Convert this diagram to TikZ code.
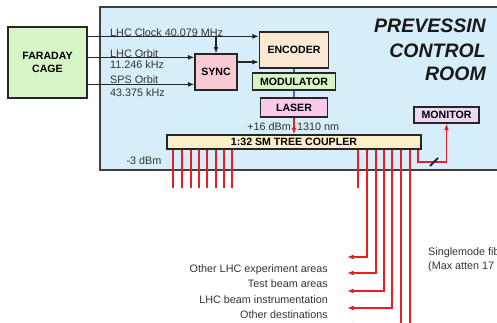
\documentclass[tikz,border=0pt]{standalone}
\usepackage{fontspec}
\setmainfont{Liberation Sans}
\usepackage{tikz}
\usetikzlibrary{positioning, arrows.meta, calc}

\definecolor{roomblue}{RGB}{213,238,249}
\definecolor{cagegreen}{RGB}{214,246,200}
\definecolor{syncpink}{RGB}{250,202,212}
\definecolor{encpeach}{RGB}{252,232,212}
\definecolor{laserpink}{RGB}{248,202,236}
\definecolor{couplercream}{RGB}{253,238,202}
\definecolor{monlilac}{RGB}{236,216,242}
\definecolor{fibrered}{RGB}{232,30,38}
\definecolor{linkblue}{RGB}{60,110,200}

\begin{document}
\begin{tikzpicture}[x=1pt, y=-1pt,
    box/.style={draw=black!85, line width=1.3pt, inner sep=0pt, font=\fontsize{10.6}{13}\selectfont\bfseries},
    lbl/.style={inner sep=0pt, text=black!80, font=\fontsize{10.8}{13}\selectfont},
    title/.style={inner sep=0pt, anchor=east, text=black!90, font=\fontsize{19.5}{24}\selectfont\bfseries\itshape},
    sig/.style={line width=1.1pt, black!85, -{Latex[length=6.5pt,width=5pt]}},
    link/.style={line width=1.1pt, linkblue},
    fibre/.style={line width=1.4pt, fibrered},
    tofibre/.style={fibre, -{Latex[length=6.5pt,width=5pt]}}]

    \useasboundingbox (0,0) rectangle (497,322);
    \clip (0,0) rectangle (497,322);

    % ---------------- CONTROL ROOM ----------------
    \draw[fill=roomblue, draw=black!75, line width=1.6pt] (100,7) rectangle (530,170);
    \node[title] (t1) at (486,26) {PREVESSIN};
    \node[title] (t2) at (486,50.5) {CONTROL};
    \node[title] (t3) at (486,74) {ROOM};

    % Boxes
    \node[box, fill=cagegreen, align=center, minimum width=79pt, minimum height=71pt] (cage) at (47.5,62.5) {FARADAY\\CAGE};
    \node[box, fill=syncpink, minimum width=42pt, minimum height=36pt] (sync) at (216,72) {SYNC};
    \node[box, fill=encpeach, minimum width=69pt, minimum height=36pt] (enc) at (294,50) {ENCODER};
    \node[box, fill=cagegreen, minimum width=83pt, minimum height=17pt] (mod) at (294,81.5) {MODULATOR};
    \node[box, fill=laserpink, minimum width=67pt, minimum height=19pt] (laser) at (294,107.5) {LASER};
    \node[box, fill=couplercream, minimum width=254pt, minimum height=14pt] (coupler) at (294,142) {1:32 SM TREE COUPLER};
    \node[box, fill=monlilac, minimum width=65pt, minimum height=16pt] (mon) at (446.5,115) {MONITOR};

    % Timing signals
    \coordinate (clk) at ($(cage.north east)+(0,10)$);
    \coordinate (orb) at ($(cage.north east)+(0,31)$);
    \coordinate (sps) at ($(cage.north east)+(0,58)$);
    \coordinate (syncout) at ($(sync.east)+(0,-10)$);
    \draw[sig] (clk) -- (clk -| enc.west);
    \draw[sig] (clk -| sync.north) -- (sync.north);
    \draw[sig] (orb) -- (orb -| sync.west);
    \draw[sig] (sps) -- (sps -| sync.west);
    \draw[sig] (syncout) -- (syncout -| enc.west);

    \node[lbl, anchor=base west] (lclk) at (110,36.5) {LHC Clock 40.079 MHz};
    \node[lbl, anchor=base west] (lorb) at (110,57) {LHC Orbit};
    \node[lbl, anchor=base west] (forb) at (110,68) {11.246 kHz};
    \node[lbl, anchor=base west] (lsps) at (110,83) {SPS Orbit};
    \node[lbl, anchor=base west] (fsps) at (110,96) {43.375 kHz};

    % Transmitter chain
    \draw[link] (enc.south) -- (mod.north);
    \draw[link] (mod.south) -- (laser.north);
    \draw[tofibre] (laser.south) -- (laser.south |- coupler.north);
    \node[lbl, anchor=base east] (pwr) at (291,130) {+16 dBm};
    \node[lbl, anchor=base west] (wave) at (297,130) {1310 nm};
    \node[lbl, anchor=base] (att) at (144,164) {-3 dBm};

    % ---------------- FIBRE OUTPUTS ----------------
    \foreach \x in {173,182,191,199,207,216,224,232}
        \draw[fibre] (\x,0 |- coupler.south) -- (\x,188);
    \draw[fibre] (358,0 |- coupler.south) -- (358,188);
    \foreach \x/\y in {367/257, 376/273, 384/291, 392/308, 401/325}
        \draw[tofibre] (\x,0 |- coupler.south) |- (347,\y);
    \draw[fibre] (410,0 |- coupler.south) -- (410,330);

    % Monitor tap
    \draw[tofibre] (418,0 |- coupler.south) -- (418,162) -| (mon.south);
    \draw[line width=2pt, black!85] (430,166) -- (438,158);

    % Destinations
    \node[lbl, anchor=base east] (d1) at (328,272) {Other LHC experiment areas};
    \node[lbl, anchor=base east] (d2) at (328,287) {Test beam areas};
    \node[lbl, anchor=base east] (d3) at (328,303) {LHC beam instrumentation};
    \node[lbl, anchor=base east] (d4) at (328,318) {Other destinations};
    \node[lbl, anchor=base west] (sm1) at (428,255) {Singlemode fibre};
    \node[lbl, anchor=base west] (sm2) at (428,269) {(Max atten 17 dB)};
\end{tikzpicture}
\end{document}
